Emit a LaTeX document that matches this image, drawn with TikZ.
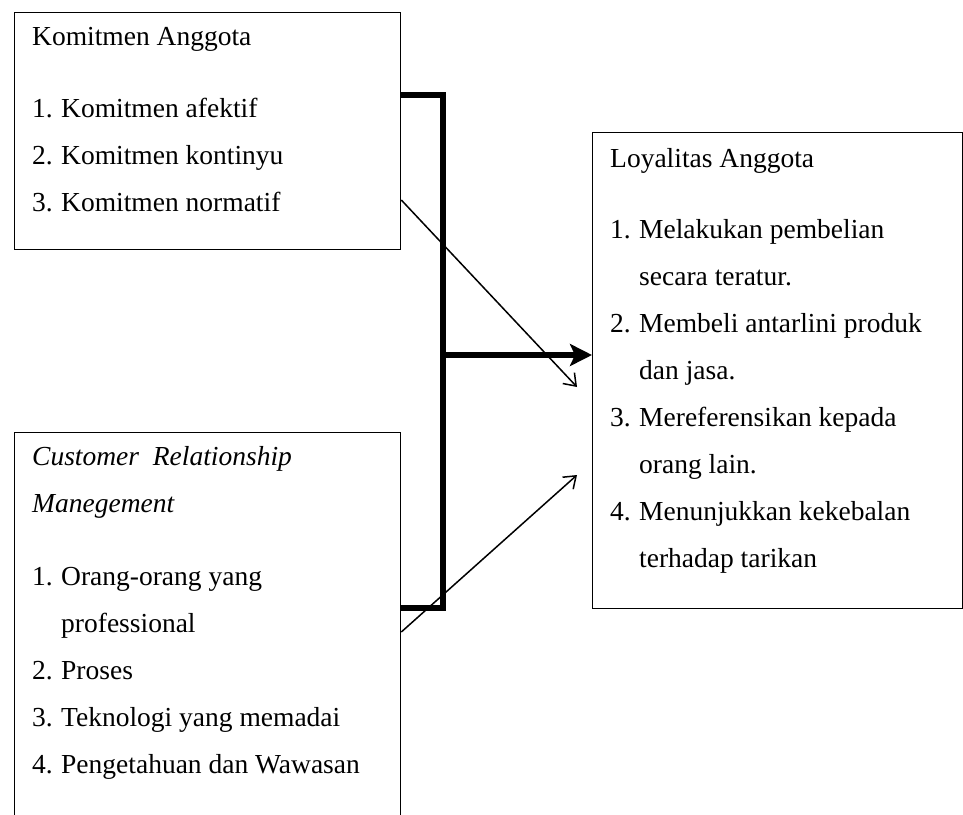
\documentclass[tikz,border=0pt]{standalone}
\usepackage{fontspec}
\setmainfont{Liberation Serif}
\usetikzlibrary{arrows.meta}
\newcommand{\nr}[1]{\makebox[29pt][l]{#1}}
\tikzset{
  box/.style={draw, line width=1.3pt, anchor=north west, inner sep=0pt},
  txt/.style={anchor=base west, inner sep=0pt, font=\fontsize{27.5pt}{47pt}\selectfont},
  bracket/.style={line width=6.5pt, line join=miter},
  thin arrow/.style={line width=1.5pt, -{Straight Barb[length=11pt,width=16pt]}},
  thick arrow/.style={line width=5.5pt, -{Stealth[length=22pt,width=22pt,inset=5pt]}}
}
\begin{document}
\begin{tikzpicture}[x=1pt,y=-1pt]
      \useasboundingbox (0,0) rectangle (963,814);
      \draw
        (14,12) node[box, minimum width=386pt, minimum height=237pt] (komitmen){}
        (14,432) node[box, minimum width=386pt, minimum height=400pt] (crm){}
        (592,132) node[box, minimum width=370pt, minimum height=476pt] (loyalitas){};
      \node[txt] (komitmenText) at (32,45) {\begin{tabular}[t]{@{}l@{}}
        Komitmen Anggota\\[25pt]
        \nr{1.}Komitmen afektif\\
        \nr{2.}Komitmen kontinyu\\
        \nr{3.}Komitmen normatif
      \end{tabular}};
      \node[txt] (crmText) at (32,465) {\begin{tabular}[t]{@{}l@{}}
        \textit{Customer\ \ Relationship}\\
        \textit{Manegement}\\[26pt]
        \nr{1.}Orang-orang yang\\
        \nr{}professional\\
        \nr{2.}Proses\\
        \nr{3.}Teknologi yang memadai\\
        \nr{4.}Pengetahuan dan Wawasan
      \end{tabular}};
      \node[txt] (loyalitasText) at (610,167) {\begin{tabular}[t]{@{}l@{}}
        Loyalitas Anggota\\[24pt]
        \nr{1.}Melakukan pembelian\\
        \nr{}secara teratur.\\
        \nr{2.}Membeli antarlini produk\\
        \nr{}dan jasa.\\
        \nr{3.}Mereferensikan kepada\\
        \nr{}orang lain.\\
        \nr{4.}Menunjukkan kekebalan\\
        \nr{}terhadap tarikan
      \end{tabular}};
      \coordinate (bendTop) at (443,95);
      \coordinate (bendBot) at (443,608);
      \coordinate (join) at (443,355);
      \coordinate (kOut) at (komitmen.east |- 0,200);
      \coordinate (kIn) at (577,387);
      \coordinate (cOut) at (crm.east |- 0,632);
      \coordinate (cIn) at (577,475);
      \begin{scope}
        \draw[bracket] (komitmen.east |- bendTop) -- (bendTop) -- (bendBot) -- (crm.east |- bendBot);
        \draw[thick arrow] (join) to (loyalitas.west |- join);
        \draw[thin arrow] (kOut) to (kIn);
        \draw[thin arrow] (cOut) to (cIn);
      \end{scope}
    \end{tikzpicture}
\end{document}
